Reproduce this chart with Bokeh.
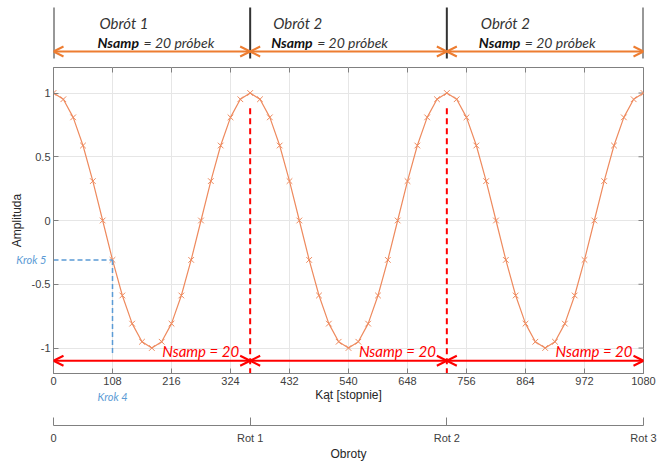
from bokeh.plotting import figure
from bokeh.models import Range1d, FixedTicker, Arrow, OpenHead, LinearAxis
from bokeh.layouts import column
from bokeh.embed import file_html
from bokeh.resources import INLINE
from bokeh.core.properties import value

# ---------------- data ----------------
angle_deg = [0, 18, 36, 54, 72, 90, 108, 126, 144, 162, 180, 198, 216, 234, 252, 270,
             288, 306, 324, 342, 360, 378, 396, 414, 432, 450, 468, 486, 504, 522, 540,
             558, 576, 594, 612, 630, 648, 666, 684, 702, 720, 738, 756, 774, 792, 810,
             828, 846, 864, 882, 900, 918, 936, 954, 972, 990, 1008, 1026, 1044, 1062, 1080]
amplitude = [1.000, 0.951, 0.809, 0.588, 0.309, 0.000, -0.309, -0.588, -0.809, -0.951,
             -1.000, -0.951, -0.809, -0.588, -0.309, 0.000, 0.309, 0.588, 0.809, 0.951,
             1.000, 0.951, 0.809, 0.588, 0.309, 0.000, -0.309, -0.588, -0.809, -0.951,
             -1.000, -0.951, -0.809, -0.588, -0.309, 0.000, 0.309, 0.588, 0.809, 0.951,
             1.000, 0.951, 0.809, 0.588, 0.309, 0.000, -0.309, -0.588, -0.809, -0.951,
             -1.000, -0.951, -0.809, -0.588, -0.309, 0.000, 0.309, 0.588, 0.809, 0.951,
             1.000]
x_ticks = [0, 108, 216, 324, 432, 540, 648, 756, 864, 972, 1080]
y_ticks = [-1, -0.5, 0, 0.5, 1]
y_labels = {-1: "-1", -0.5: "-0.5", 0: "0", 0.5: "0.5", 1: "1"}
rot_bounds = [0, 360, 720, 1080]
rot_ticks = [0, 1, 2, 3]
rot_labels = {0: "0", 1: "Rot 1", 2: "Rot 2", 3: "Rot 3"}
top_titles = ["Obrót 1", "Obrót 2", "Obrót 2"]
top_bold = "Nsamp"
top_rest = "= 20 próbek"
red_text = "Nsamp = 20"
krok_index = 6
krok_x_label = "Krok 4"
krok_y_label = "Krok 5"

# ---------------- styles ----------------
W = 658
BL, BR = 53, 15
ORANGE_LINE = "#EE8A5E"
ORANGE_ARROW = "#ED7D31"
RED = "#FF0000"
BLUE = "#5B9BD5"
AX = "#808080"
TXT = "#404040"
FONT = "Liberation Sans"
TFONT = "Lato"
px_per_unit = 590 / 1080.0
xr = Range1d(0, 1080)

# ---------------- top annotation figure ----------------
top = figure(width=W, height=65, output_backend="svg", toolbar_location=None,
             x_range=xr, y_range=Range1d(0, 65),
             min_border_left=BL, min_border_right=BR, min_border_top=0, min_border_bottom=0,
             x_axis_location=None, y_axis_location=None)
top.outline_line_color = None
top.xgrid.visible = False
top.ygrid.visible = False
top.segment(x0=rot_bounds, y0=7, x1=rot_bounds, y1=58, line_color="#333333", line_width=2)
for i in range(3):
    top.add_layout(Arrow(x_start=rot_bounds[i], x_end=rot_bounds[i + 1], y_start=14, y_end=14,
                         start=OpenHead(size=10, line_color=ORANGE_ARROW, line_width=2),
                         end=OpenHead(size=10, line_color=ORANGE_ARROW, line_width=2),
                         line_color=ORANGE_ARROW, line_width=2))
title_off = [46, 23, 34]
for i in range(3):
    top.text(x=[rot_bounds[i]], y=[43], text=[top_titles[i]], x_offset=title_off[i],
             text_font=value(TFONT), text_font_style="italic", text_font_size="15px",
             text_color="#333333", text_baseline="middle", text_align="left")
    top.text(x=[rot_bounds[i]], y=[23], text=[top_bold], x_offset=title_off[i] - 2,
             text_font=value(TFONT), text_font_style="bold italic", text_font_size="14px",
             text_color="#111111", text_baseline="middle", text_align="left")
    top.text(x=[rot_bounds[i]], y=[23], text=[top_rest], x_offset=title_off[i] + 44,
             text_font=value(TFONT), text_font_style="italic", text_font_size="14px",
             text_color="#333333", text_baseline="middle", text_align="left")

# ---------------- main figure ----------------
p = figure(width=W, height=350, output_backend="svg", toolbar_location=None,
           x_range=xr, y_range=Range1d(-1.2, 1.2),
           min_border_left=BL, min_border_right=BR, min_border_top=2, min_border_bottom=42)
p.outline_line_color = AX
p.outline_line_width = 1
p.outline_line_alpha = 1

for ax in (p.xaxis[0], p.yaxis[0]):
    ax.major_tick_in = 5
    ax.major_tick_out = 0
    ax.minor_tick_line_color = None
    ax.axis_line_color = AX
    ax.major_tick_line_color = AX
    ax.major_label_text_font = FONT
    ax.major_label_text_font_size = "11px"
    ax.major_label_text_color = TXT
    ax.axis_label_text_font = FONT
    ax.axis_label_text_font_size = "12px"
    ax.axis_label_text_font_style = "normal"
    ax.axis_label_text_color = "#262626"
p.xaxis.ticker = FixedTicker(ticks=x_ticks)
p.xaxis.major_label_standoff = 3
p.xaxis.axis_label = "Kąt [stopnie]"
p.xaxis.axis_label_standoff = 0
p.yaxis.ticker = FixedTicker(ticks=y_ticks)
p.yaxis.major_label_overrides = y_labels
p.yaxis.major_label_standoff = 3
p.yaxis.axis_label = "Amplituda"
p.yaxis.axis_label_standoff = 5
p.xgrid.ticker = FixedTicker(ticks=x_ticks)
p.ygrid.ticker = FixedTicker(ticks=y_ticks)
p.grid.grid_line_color = "#e6e6e6"
p.grid.grid_line_width = 1

# box ticks on top and right
tick_y = 5 / 127.5
tick_x = 5 / px_per_unit
p.segment(x0=x_ticks, y0=1.2, x1=x_ticks, y1=1.2 - tick_y, line_color=AX, line_width=1)
p.segment(x0=1080, y0=y_ticks, x1=1080 - tick_x, y1=y_ticks, line_color=AX, line_width=1)

# signal
p.line(angle_deg, amplitude, line_color=ORANGE_LINE, line_width=1.2)
p.scatter(angle_deg, amplitude, marker="x", size=8, line_color=ORANGE_LINE, line_width=1)

# red rotation boundaries
p.segment(x0=rot_bounds[1:3], y0=0.88, x1=rot_bounds[1:3], y1=-1.2,
          line_color=RED, line_width=2, line_dash="6 4")
for i in range(3):
    p.add_layout(Arrow(x_start=rot_bounds[i], x_end=rot_bounds[i + 1], y_start=-1.1, y_end=-1.1,
                       start=OpenHead(size=10, line_color=RED, line_width=2),
                       end=OpenHead(size=10, line_color=RED, line_width=2),
                       line_color=RED, line_width=2))
p.text(x=rot_bounds[1:], y=[-1.1] * 3, text=[red_text] * 3, x_offset=-11, y_offset=-1,
       text_font=value(TFONT), text_font_style="italic", text_font_size="15px",
       text_color=RED, text_align="right", text_baseline="bottom")

# blue step markers
kx = angle_deg[krok_index]
ky = amplitude[krok_index]
p.line([0, kx], [ky, ky], line_color=BLUE, line_width=1.5, line_dash="5 3")
p.line([kx, kx], [ky, -1.06], line_color=BLUE, line_width=1.5, line_dash="5 3")


def krok_axis(ax, tick, label, standoff):
    ax.ticker = FixedTicker(ticks=[tick])
    ax.major_label_overrides = {tick: label}
    ax.axis_line_color = None
    ax.major_tick_line_color = None
    ax.minor_tick_line_color = None
    ax.major_tick_in = 0
    ax.major_tick_out = 0
    ax.major_label_standoff = standoff
    ax.major_label_text_font = TFONT
    ax.major_label_text_font_style = "italic"
    ax.major_label_text_font_size = "11px"
    ax.major_label_text_color = BLUE


ky_axis = LinearAxis()
krok_axis(ky_axis, ky, krok_y_label, -40)
p.add_layout(ky_axis, "left")
kx_axis = LinearAxis()
krok_axis(kx_axis, kx, krok_x_label, -15)
p.add_layout(kx_axis, "below")

# ---------------- bottom rotation axis ----------------
b = figure(width=W, height=49, output_backend="svg", toolbar_location=None,
           x_range=Range1d(0, 3), y_range=Range1d(0, 1),
           min_border_left=BL, min_border_right=BR, min_border_top=0, min_border_bottom=39,
           y_axis_location=None)
b.outline_line_color = None
b.xgrid.visible = False
b.ygrid.visible = False
bx = b.xaxis[0]
bx.ticker = FixedTicker(ticks=rot_ticks)
bx.major_label_overrides = rot_labels
bx.major_tick_in = 8
bx.major_tick_out = 0
bx.minor_tick_line_color = None
bx.axis_line_color = AX
bx.major_tick_line_color = AX
bx.major_label_text_font = FONT
bx.major_label_text_font_size = "11px"
bx.major_label_text_color = TXT
bx.major_label_standoff = 6
bx.axis_label = "Obroty"
bx.axis_label_standoff = 0
bx.axis_label_text_font = FONT
bx.axis_label_text_font_size = "12px"
bx.axis_label_text_font_style = "normal"
bx.axis_label_text_color = "#262626"
b.line([0, 3], [0, 0], line_alpha=0)

layout = column(top, p, b)
open("out.html", "w").write(file_html(layout, INLINE))
